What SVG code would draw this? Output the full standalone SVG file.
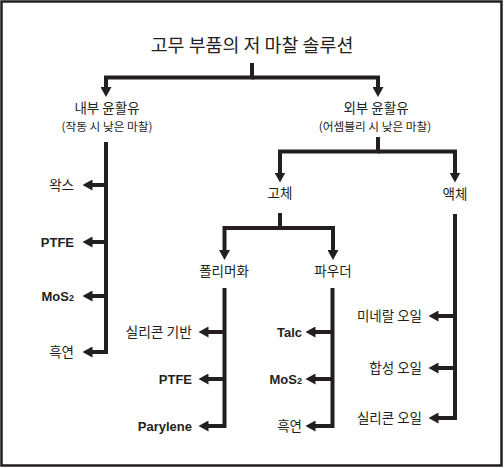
<svg xmlns="http://www.w3.org/2000/svg" width="504" height="468" viewBox="0 0 504 468">
<style>
.ko{font-family:"Noto Sans CJK KR","Noto Sans",sans-serif;fill:#231f20}
.la{font-family:"Liberation Sans",Arial,sans-serif;font-weight:bold;fill:#231f20}
.c{fill:none;stroke:#231f20;stroke-width:4;stroke-linejoin:miter;marker-end:url(#ah)}
</style>
<defs>
<marker id="ah" markerUnits="userSpaceOnUse" markerWidth="11" markerHeight="11" refX="0.5" refY="5.5" orient="auto">
<path d="M0,0 L10,5.5 L0,11 z" fill="#231f20"/>
</marker>
</defs>
<rect x="1.5" y="1.5" width="500" height="464" fill="#fff" stroke="#231f20" stroke-width="2.5"/>
<g id="connectors">
<path class="c" d="M252,63 V77.5 H106 V87.5"/>
<path class="c" d="M252,77.5 H378 V87.5"/>
<path class="c" d="M106,142 V352 H92"/>
<path class="c" d="M106,185 H92"/>
<path class="c" d="M106,242 H92"/>
<path class="c" d="M106,296 H92"/>
<path class="c" d="M378,137 V151.5 H280 V173"/>
<path class="c" d="M378,151.5 H455 V173"/>
<path class="c" d="M280,213 V228 H224.5 V250.5"/>
<path class="c" d="M280,228 H333 V250.5"/>
<path class="c" d="M224.5,288 V426 H208"/>
<path class="c" d="M224.5,332 H208"/>
<path class="c" d="M224.5,379 H208"/>
<path class="c" d="M332.5,288 V426 H315"/>
<path class="c" d="M332.5,332 H315"/>
<path class="c" d="M332.5,379 H315"/>
<path class="c" d="M455,214 V418 H438"/>
<path class="c" d="M455,316 H438"/>
<path class="c" d="M455,368 H438"/>
</g>
<g id="title"><text class="ko" x="252" y="52" font-size="18.4" text-anchor="middle">고무 부품의 저 마찰 솔루션</text></g>
<g id="internal">
<text class="ko" x="107" y="113" font-size="13.5" text-anchor="middle">내부 윤활유</text>
<text class="ko" x="107" y="131" font-size="11.7" text-anchor="middle">(작동 시 낮은 마찰)</text>
</g>
<g id="external">
<text class="ko" x="376" y="113" font-size="13.5" text-anchor="middle">외부 윤활유</text>
<text class="ko" x="375" y="131" font-size="11.7" text-anchor="middle">(어셈블리 시 낮은 마찰)</text>
</g>
<g id="wax"><text class="ko" x="74" y="190" font-size="13.5" text-anchor="end">왁스</text></g>
<g id="ptfe1"><text class="la" x="74" y="246.7" font-size="13" text-anchor="end">PTFE</text></g>
<g id="mos2a"><text class="la" x="74" y="300.7" font-size="13" text-anchor="end">MoS<tspan font-size="9">2</tspan></text></g>
<g id="graphite1"><text class="ko" x="74" y="357" font-size="13.5" text-anchor="end">흑연</text></g>
<g id="solid"><text class="ko" x="280" y="198" font-size="13.5" text-anchor="middle">고체</text></g>
<g id="liquid"><text class="ko" x="455" y="198.5" font-size="13.5" text-anchor="middle">액체</text></g>
<g id="polymer"><text class="ko" x="224" y="276" font-size="13.5" text-anchor="middle">폴리머화</text></g>
<g id="powder"><text class="ko" x="333" y="276" font-size="13.5" text-anchor="middle">파우더</text></g>
<g id="silicone-base"><text class="ko" x="192" y="337" font-size="13.8" text-anchor="end">실리콘 기반</text></g>
<g id="ptfe2"><text class="la" x="192" y="383.7" font-size="13" text-anchor="end">PTFE</text></g>
<g id="parylene"><text class="la" x="192" y="430.7" font-size="13" text-anchor="end">Parylene</text></g>
<g id="talc"><text class="la" x="302" y="336.7" font-size="13" text-anchor="end">Talc</text></g>
<g id="mos2b"><text class="la" x="302" y="383.7" font-size="13" text-anchor="end">MoS<tspan font-size="9">2</tspan></text></g>
<g id="graphite2"><text class="ko" x="302" y="431" font-size="13.5" text-anchor="end">흑연</text></g>
<g id="mineral"><text class="ko" x="422" y="321" font-size="13.5" text-anchor="end">미네랄 오일</text></g>
<g id="synthetic"><text class="ko" x="422" y="373" font-size="13.5" text-anchor="end">합성 오일</text></g>
<g id="silicone-oil"><text class="ko" x="422" y="423" font-size="13.5" text-anchor="end">실리콘 오일</text></g>
</svg>
